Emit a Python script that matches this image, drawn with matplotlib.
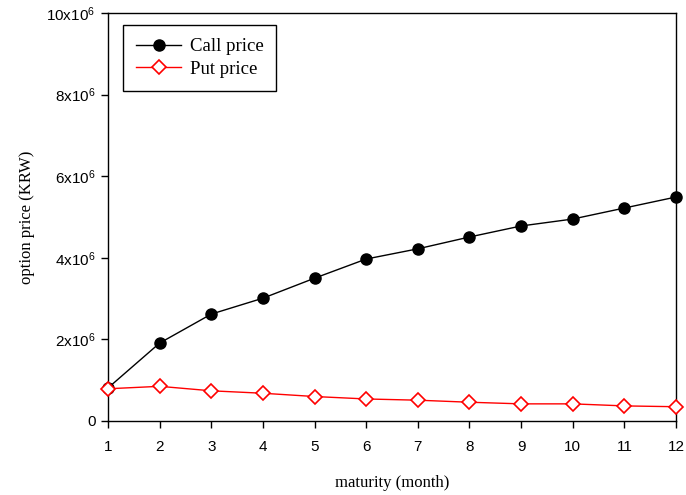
import matplotlib
matplotlib.use("Agg")
import matplotlib.pyplot as plt
from matplotlib.ticker import FuncFormatter

maturity = [1, 2, 3, 4, 5, 6, 7, 8, 9, 10, 11, 12]
call_price = [0.81e6, 1.91e6, 2.62e6, 3.01e6, 3.50e6, 3.97e6, 4.22e6, 4.51e6, 4.78e6, 4.95e6, 5.22e6, 5.49e6]
put_price = [0.79e6, 0.85e6, 0.74e6, 0.68e6, 0.60e6, 0.54e6, 0.51e6, 0.46e6, 0.42e6, 0.42e6, 0.37e6, 0.35e6]
yticks = [0, 2e6, 4e6, 6e6, 8e6, 10e6]

plt.rcParams['mathtext.fontset'] = 'custom'
plt.rcParams['mathtext.rm'] = 'Liberation Sans'
plt.rcParams['mathtext.it'] = 'Liberation Sans'

fig = plt.figure(figsize=(6.86, 4.95), dpi=100)
ax = fig.add_axes([108/686, 1-421/495, (676-108)/686, (421-13)/495])

ax.plot(maturity, call_price, color='black', lw=1, marker='o', ms=8,
        mfc='black', mec='black', label='Call price', clip_on=False, zorder=3)
ax.plot(maturity, put_price, color='red', lw=1, marker='D', ms=7,
        mfc='white', mec='red', mew=1.2, label='Put price', clip_on=False, zorder=3)

ax.set_xlim(1, 12)
ax.set_ylim(0, 10e6)
ax.set_xticks(maturity)
ax.set_yticks(yticks)

def fmt(v, pos):
    if v == 0:
        return '0'
    return r'%dx10$^{6}$' % round(v/1e6)
ax.yaxis.set_major_formatter(FuncFormatter(fmt))

for lab in ax.get_xticklabels() + ax.get_yticklabels():
    lab.set_fontfamily('Liberation Sans')
    lab.set_fontsize(11)

ax.tick_params(axis='x', direction='out', length=5, width=1, pad=9)
ax.tick_params(axis='y', direction='out', length=5, width=1, pad=4)
for s in ax.spines.values():
    s.set_linewidth(1)

ax.set_xlabel('maturity (month)', fontfamily='Liberation Serif', fontsize=12, labelpad=15)
ax.set_ylabel('option price (KRW)', fontfamily='Liberation Serif', fontsize=12, labelpad=8)

leg = ax.legend(loc='upper left', bbox_to_anchor=(15/568, 1-12/408), prop={'family': 'Liberation Serif', 'size': 13.5},
                fancybox=False, edgecolor='black', framealpha=1, borderpad=0.7,
                handlelength=2.4, handletextpad=0.45, labelspacing=0.3, borderaxespad=0)
leg.get_frame().set_linewidth(1)

fig.savefig('out.png', dpi=100)
